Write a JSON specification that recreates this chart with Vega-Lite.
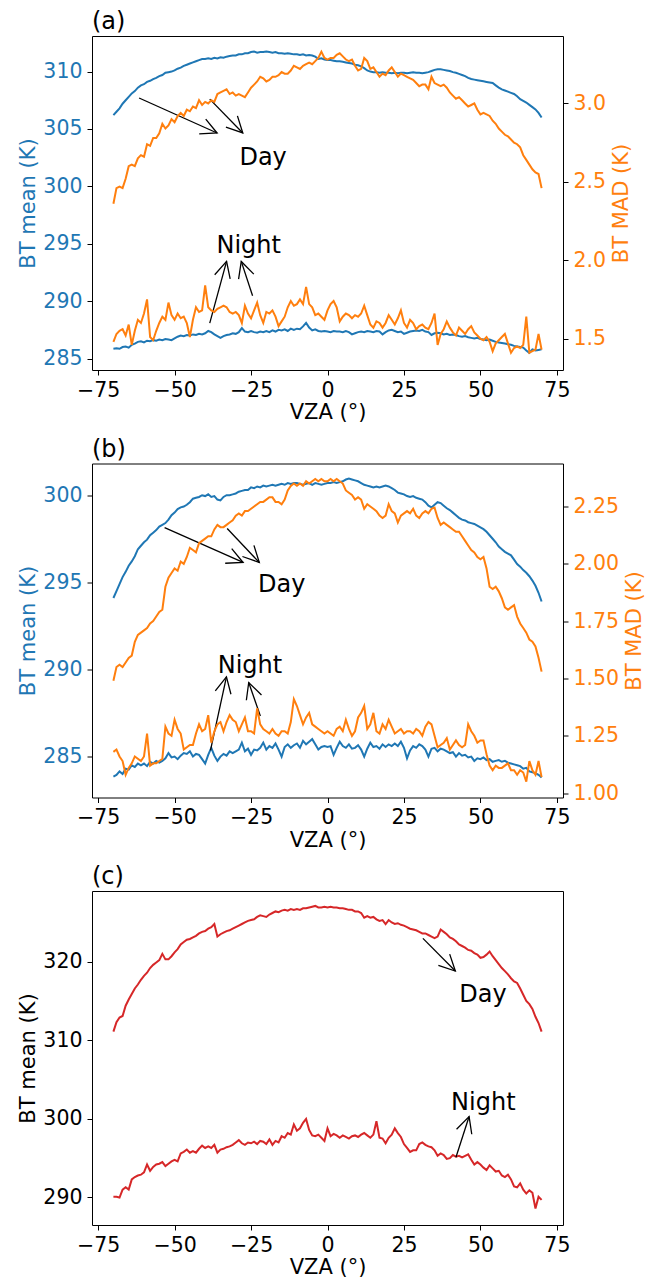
{
"$schema":"https://vega.github.io/schema/vega-lite/v6.json",
"padding":{"left":17,"top":9,"right":5,"bottom":2},
"background":"white",
"datasets":{
"a":[
{"x":-70,"dm":306.2,"nm":285.85,"ds":2.36,"ns":1.48},{"x":-69,"dm":306.5,"nm":285.9,"ds":2.46,"ns":1.53},{"x":-68,"dm":306.8,"nm":285.85,"ds":2.47,"ns":1.55},{"x":-67,"dm":307.2,"nm":286.0,"ds":2.46,"ns":1.56},{"x":-66,"dm":307.5,"nm":286.05,"ds":2.52,"ns":1.52},{"x":-65,"dm":307.8,"nm":285.95,"ds":2.60,"ns":1.59},{"x":-64,"dm":308.1,"nm":286.2,"ds":2.61,"ns":1.46},{"x":-63,"dm":308.3,"nm":286.3,"ds":2.60,"ns":1.55},{"x":-62,"dm":308.6,"nm":286.45,"ds":2.65,"ns":1.62},{"x":-61,"dm":308.8,"nm":286.5,"ds":2.67,"ns":1.60},
{"x":-60,"dm":308.9,"nm":286.4,"ds":2.66,"ns":1.66},{"x":-59,"dm":309.1,"nm":286.55,"ds":2.74,"ns":1.75},{"x":-58,"dm":309.2,"nm":286.5,"ds":2.73,"ns":1.51},{"x":-57,"dm":309.35,"nm":286.6,"ds":2.78,"ns":1.49},{"x":-56,"dm":309.45,"nm":286.55,"ds":2.78,"ns":1.55},{"x":-55,"dm":309.6,"nm":286.65,"ds":2.81,"ns":1.60},{"x":-54,"dm":309.7,"nm":286.6,"ds":2.87,"ns":1.64},{"x":-53,"dm":309.9,"nm":286.7,"ds":2.84,"ns":1.62},{"x":-52,"dm":309.95,"nm":286.65,"ds":2.86,"ns":1.73},{"x":-51,"dm":310.0,"nm":286.6,"ds":2.90,"ns":1.65},
{"x":-50,"dm":310.1,"nm":286.75,"ds":2.88,"ns":1.62},{"x":-49,"dm":310.25,"nm":286.9,"ds":2.92,"ns":1.66},{"x":-48,"dm":310.35,"nm":287.0,"ds":2.94,"ns":1.63},{"x":-47,"dm":310.5,"nm":286.95,"ds":2.92,"ns":1.64},{"x":-46,"dm":310.6,"nm":287.05,"ds":2.96,"ns":1.60},{"x":-45,"dm":310.7,"nm":287.0,"ds":2.95,"ns":1.51},{"x":-44,"dm":310.8,"nm":287.1,"ds":2.98,"ns":1.62},{"x":-43,"dm":310.9,"nm":287.05,"ds":2.97,"ns":1.70},{"x":-42,"dm":311.0,"nm":287.15,"ds":3.02,"ns":1.67},{"x":-41,"dm":311.1,"nm":287.1,"ds":2.99,"ns":1.68},
{"x":-40,"dm":311.1,"nm":287.2,"ds":3.01,"ns":1.84},{"x":-39,"dm":311.15,"nm":287.4,"ds":3.00,"ns":1.70},{"x":-38,"dm":311.1,"nm":287.3,"ds":3.02,"ns":1.68},{"x":-37,"dm":311.2,"nm":287.1,"ds":3.01,"ns":1.67},{"x":-36,"dm":311.15,"nm":286.95,"ds":3.06,"ns":1.69},{"x":-35,"dm":311.25,"nm":286.8,"ds":3.07,"ns":1.70},{"x":-34,"dm":311.2,"nm":286.95,"ds":3.08,"ns":1.71},{"x":-33,"dm":311.3,"nm":287.05,"ds":3.09,"ns":1.70},{"x":-32,"dm":311.35,"nm":287.1,"ds":3.06,"ns":1.67},{"x":-31,"dm":311.4,"nm":287.2,"ds":3.07,"ns":1.66},
{"x":-30,"dm":311.4,"nm":287.15,"ds":3.05,"ns":1.67},{"x":-29,"dm":311.5,"nm":287.3,"ds":3.06,"ns":1.65},{"x":-28,"dm":311.5,"nm":287.65,"ds":3.05,"ns":1.60},{"x":-27,"dm":311.6,"nm":287.35,"ds":3.04,"ns":1.71},{"x":-26,"dm":311.6,"nm":287.3,"ds":3.07,"ns":1.66},{"x":-25,"dm":311.7,"nm":287.4,"ds":3.10,"ns":1.63},{"x":-24,"dm":311.75,"nm":287.3,"ds":3.12,"ns":1.68},{"x":-23,"dm":311.65,"nm":287.25,"ds":3.14,"ns":1.73},{"x":-22,"dm":311.7,"nm":287.35,"ds":3.17,"ns":1.65},{"x":-21,"dm":311.7,"nm":287.3,"ds":3.16,"ns":1.60},
{"x":-20,"dm":311.75,"nm":287.4,"ds":3.14,"ns":1.67},{"x":-19,"dm":311.7,"nm":287.3,"ds":3.15,"ns":1.66},{"x":-18,"dm":311.65,"nm":287.45,"ds":3.17,"ns":1.68},{"x":-17,"dm":311.7,"nm":287.35,"ds":3.17,"ns":1.64},{"x":-16,"dm":311.6,"nm":287.5,"ds":3.18,"ns":1.58},{"x":-15,"dm":311.6,"nm":287.45,"ds":3.20,"ns":1.61},{"x":-14,"dm":311.55,"nm":287.55,"ds":3.19,"ns":1.64},{"x":-13,"dm":311.6,"nm":287.4,"ds":3.19,"ns":1.70},{"x":-12,"dm":311.55,"nm":287.6,"ds":3.21,"ns":1.74},{"x":-11,"dm":311.5,"nm":287.5,"ds":3.24,"ns":1.71},
{"x":-10,"dm":311.5,"nm":287.6,"ds":3.23,"ns":1.72},{"x":-9,"dm":311.45,"nm":287.55,"ds":3.22,"ns":1.75},{"x":-8,"dm":311.5,"nm":287.8,"ds":3.24,"ns":1.72},{"x":-7,"dm":311.4,"nm":288.1,"ds":3.25,"ns":1.83},{"x":-6,"dm":311.45,"nm":287.7,"ds":3.26,"ns":1.72},{"x":-5,"dm":311.4,"nm":287.45,"ds":3.25,"ns":1.70},{"x":-4,"dm":311.3,"nm":287.55,"ds":3.27,"ns":1.65},{"x":-3,"dm":311.1,"nm":287.4,"ds":3.29,"ns":1.66},{"x":-2,"dm":311.15,"nm":287.35,"ds":3.33,"ns":1.64},{"x":-1,"dm":311.05,"nm":287.4,"ds":3.29,"ns":1.62},
{"x":0,"dm":311.0,"nm":287.35,"ds":3.28,"ns":1.68},{"x":1,"dm":311.0,"nm":287.3,"ds":3.29,"ns":1.72},{"x":2,"dm":310.95,"nm":287.4,"ds":3.29,"ns":1.74},{"x":3,"dm":310.9,"nm":287.35,"ds":3.31,"ns":1.70},{"x":4,"dm":310.9,"nm":287.35,"ds":3.32,"ns":1.61},{"x":5,"dm":310.85,"nm":287.3,"ds":3.30,"ns":1.64},{"x":6,"dm":310.8,"nm":287.4,"ds":3.28,"ns":1.66},{"x":7,"dm":310.75,"nm":287.3,"ds":3.27,"ns":1.65},{"x":8,"dm":310.7,"nm":287.1,"ds":3.28,"ns":1.63},{"x":9,"dm":310.6,"nm":287.2,"ds":3.24,"ns":1.65},
{"x":10,"dm":310.55,"nm":287.3,"ds":3.21,"ns":1.64},{"x":11,"dm":310.45,"nm":287.35,"ds":3.22,"ns":1.66},{"x":12,"dm":310.3,"nm":287.3,"ds":3.29,"ns":1.71},{"x":13,"dm":310.1,"nm":287.4,"ds":3.27,"ns":1.65},{"x":14,"dm":310.0,"nm":287.35,"ds":3.22,"ns":1.59},{"x":15,"dm":309.95,"nm":287.3,"ds":3.23,"ns":1.57},{"x":16,"dm":309.95,"nm":287.4,"ds":3.20,"ns":1.61},{"x":17,"dm":309.9,"nm":287.35,"ds":3.17,"ns":1.60},{"x":18,"dm":309.95,"nm":287.1,"ds":3.19,"ns":1.57},{"x":19,"dm":309.9,"nm":287.3,"ds":3.18,"ns":1.60},
{"x":20,"dm":309.9,"nm":287.45,"ds":3.21,"ns":1.65},{"x":21,"dm":309.85,"nm":287.5,"ds":3.23,"ns":1.62},{"x":22,"dm":309.9,"nm":287.4,"ds":3.20,"ns":1.59},{"x":23,"dm":309.85,"nm":287.3,"ds":3.17,"ns":1.63},{"x":24,"dm":309.9,"nm":287.35,"ds":3.19,"ns":1.68},{"x":25,"dm":309.9,"nm":287.15,"ds":3.18,"ns":1.60},{"x":26,"dm":309.85,"nm":287.25,"ds":3.17,"ns":1.57},{"x":27,"dm":309.9,"nm":287.35,"ds":3.16,"ns":1.62},{"x":28,"dm":309.95,"nm":287.4,"ds":3.15,"ns":1.60},{"x":29,"dm":309.9,"nm":287.45,"ds":3.13,"ns":1.56},
{"x":30,"dm":309.9,"nm":287.4,"ds":3.11,"ns":1.58},{"x":31,"dm":309.85,"nm":287.5,"ds":3.12,"ns":1.59},{"x":32,"dm":309.9,"nm":287.35,"ds":3.12,"ns":1.57},{"x":33,"dm":309.95,"nm":287.3,"ds":3.09,"ns":1.56},{"x":34,"dm":310.05,"nm":287.05,"ds":3.17,"ns":1.60},{"x":35,"dm":310.15,"nm":287.2,"ds":3.13,"ns":1.66},{"x":36,"dm":310.2,"nm":287.25,"ds":3.12,"ns":1.46},{"x":37,"dm":310.2,"nm":287.2,"ds":3.11,"ns":1.53},{"x":38,"dm":310.15,"nm":287.1,"ds":3.12,"ns":1.56},{"x":39,"dm":310.1,"nm":287.15,"ds":3.10,"ns":1.61},
{"x":40,"dm":310.05,"nm":287.05,"ds":3.07,"ns":1.57},{"x":41,"dm":309.95,"nm":287.1,"ds":3.05,"ns":1.54},{"x":42,"dm":309.9,"nm":287.05,"ds":3.03,"ns":1.52},{"x":43,"dm":309.8,"nm":286.95,"ds":3.04,"ns":1.57},{"x":44,"dm":309.7,"nm":286.9,"ds":3.02,"ns":1.55},{"x":45,"dm":309.6,"nm":286.95,"ds":3.00,"ns":1.53},{"x":46,"dm":309.45,"nm":286.85,"ds":2.98,"ns":1.56},{"x":47,"dm":309.35,"nm":286.8,"ds":2.99,"ns":1.58},{"x":48,"dm":309.3,"nm":286.75,"ds":3.00,"ns":1.54},{"x":49,"dm":309.25,"nm":286.8,"ds":2.96,"ns":1.52},
{"x":50,"dm":309.2,"nm":286.7,"ds":2.93,"ns":1.50},{"x":51,"dm":309.15,"nm":286.65,"ds":2.94,"ns":1.49},{"x":52,"dm":309.1,"nm":286.6,"ds":2.93,"ns":1.51},{"x":53,"dm":309.05,"nm":286.65,"ds":2.92,"ns":1.48},{"x":54,"dm":309.0,"nm":286.55,"ds":2.89,"ns":1.42},{"x":55,"dm":308.8,"nm":286.45,"ds":2.87,"ns":1.47},{"x":56,"dm":308.6,"nm":286.4,"ds":2.84,"ns":1.49},{"x":57,"dm":308.45,"nm":286.35,"ds":2.82,"ns":1.51},{"x":58,"dm":308.35,"nm":286.3,"ds":2.80,"ns":1.53},{"x":59,"dm":308.25,"nm":286.25,"ds":2.79,"ns":1.47},
{"x":60,"dm":308.15,"nm":286.2,"ds":2.77,"ns":1.41},{"x":61,"dm":308.05,"nm":286.1,"ds":2.75,"ns":1.44},{"x":62,"dm":307.85,"nm":286.05,"ds":2.74,"ns":1.45},{"x":63,"dm":307.6,"nm":286.0,"ds":2.72,"ns":1.44},{"x":64,"dm":307.45,"nm":285.95,"ds":2.67,"ns":1.46},{"x":65,"dm":307.3,"nm":285.7,"ds":2.64,"ns":1.64},{"x":66,"dm":307.1,"nm":285.5,"ds":2.61,"ns":1.41},{"x":67,"dm":306.9,"nm":285.8,"ds":2.58,"ns":1.42},{"x":68,"dm":306.7,"nm":285.7,"ds":2.56,"ns":1.43},{"x":69,"dm":306.4,"nm":285.75,"ds":2.55,"ns":1.53},
{"x":70,"dm":306.0,"nm":285.8,"ds":2.46,"ns":1.43}
],
"b":[
{"x":-70,"dm":294.1,"nm":283.85,"ds":1.49,"ns":1.18},{"x":-69,"dm":294.5,"nm":283.95,"ds":1.55,"ns":1.19},{"x":-68,"dm":294.9,"nm":284.15,"ds":1.56,"ns":1.16},{"x":-67,"dm":295.3,"nm":284.0,"ds":1.55,"ns":1.14},{"x":-66,"dm":295.6,"nm":284.3,"ds":1.57,"ns":1.08},{"x":-65,"dm":295.95,"nm":284.25,"ds":1.59,"ns":1.11},{"x":-64,"dm":296.2,"nm":284.5,"ds":1.60,"ns":1.13},{"x":-63,"dm":296.5,"nm":284.4,"ds":1.66,"ns":1.16},{"x":-62,"dm":296.9,"nm":284.6,"ds":1.69,"ns":1.15},{"x":-61,"dm":297.1,"nm":284.5,"ds":1.70,"ns":1.14},
{"x":-60,"dm":297.3,"nm":284.6,"ds":1.71,"ns":1.16},{"x":-59,"dm":297.45,"nm":284.45,"ds":1.72,"ns":1.26},{"x":-58,"dm":297.7,"nm":284.7,"ds":1.74,"ns":1.12},{"x":-57,"dm":297.85,"nm":284.6,"ds":1.75,"ns":1.13},{"x":-56,"dm":298.0,"nm":284.75,"ds":1.77,"ns":1.13},{"x":-55,"dm":298.2,"nm":284.65,"ds":1.79,"ns":1.14},{"x":-54,"dm":298.3,"nm":284.75,"ds":1.80,"ns":1.15},{"x":-53,"dm":298.4,"nm":284.9,"ds":1.90,"ns":1.29},{"x":-52,"dm":298.6,"nm":285.2,"ds":1.94,"ns":1.26},{"x":-51,"dm":298.85,"nm":284.95,"ds":1.96,"ns":1.25},
{"x":-50,"dm":299.0,"nm":285.0,"ds":1.98,"ns":1.32},{"x":-49,"dm":299.2,"nm":284.85,"ds":1.97,"ns":1.28},{"x":-48,"dm":299.3,"nm":285.05,"ds":2.01,"ns":1.26},{"x":-47,"dm":299.35,"nm":285.2,"ds":2.00,"ns":1.19},{"x":-46,"dm":299.45,"nm":285.15,"ds":2.03,"ns":1.20},{"x":-45,"dm":299.6,"nm":285.3,"ds":2.07,"ns":1.21},{"x":-44,"dm":299.8,"nm":285.0,"ds":2.06,"ns":1.21},{"x":-43,"dm":299.85,"nm":285.15,"ds":2.05,"ns":1.26},{"x":-42,"dm":299.9,"nm":285.1,"ds":2.09,"ns":1.30},{"x":-41,"dm":300.0,"nm":284.85,"ds":2.10,"ns":1.27},
{"x":-40,"dm":299.95,"nm":284.6,"ds":2.11,"ns":1.28},{"x":-39,"dm":300.05,"nm":285.1,"ds":2.12,"ns":1.34},{"x":-38,"dm":299.9,"nm":285.5,"ds":2.12,"ns":1.22},{"x":-37,"dm":299.95,"nm":285.05,"ds":2.15,"ns":1.27},{"x":-36,"dm":299.75,"nm":284.75,"ds":2.17,"ns":1.30},{"x":-35,"dm":299.7,"nm":285.0,"ds":2.16,"ns":1.31},{"x":-34,"dm":299.9,"nm":285.15,"ds":2.16,"ns":1.27},{"x":-33,"dm":300.0,"nm":285.05,"ds":2.17,"ns":1.31},{"x":-32,"dm":300.0,"nm":285.3,"ds":2.18,"ns":1.34},{"x":-31,"dm":300.05,"nm":285.2,"ds":2.19,"ns":1.32},
{"x":-30,"dm":300.1,"nm":285.3,"ds":2.21,"ns":1.31},{"x":-29,"dm":300.2,"nm":285.4,"ds":2.22,"ns":1.27},{"x":-28,"dm":300.25,"nm":285.8,"ds":2.21,"ns":1.30},{"x":-27,"dm":300.3,"nm":285.3,"ds":2.23,"ns":1.33},{"x":-26,"dm":300.3,"nm":285.45,"ds":2.23,"ns":1.27},{"x":-25,"dm":300.45,"nm":285.1,"ds":2.24,"ns":1.27},{"x":-24,"dm":300.4,"nm":285.4,"ds":2.25,"ns":1.26},{"x":-23,"dm":300.5,"nm":285.35,"ds":2.26,"ns":1.37},{"x":-22,"dm":300.45,"nm":285.5,"ds":2.27,"ns":1.30},{"x":-21,"dm":300.55,"nm":285.8,"ds":2.27,"ns":1.28},
{"x":-20,"dm":300.5,"nm":285.4,"ds":2.28,"ns":1.27},{"x":-19,"dm":300.55,"nm":285.6,"ds":2.29,"ns":1.26},{"x":-18,"dm":300.6,"nm":285.5,"ds":2.29,"ns":1.28},{"x":-17,"dm":300.55,"nm":285.75,"ds":2.27,"ns":1.26},{"x":-16,"dm":300.6,"nm":285.4,"ds":2.27,"ns":1.25},{"x":-15,"dm":300.65,"nm":285.0,"ds":2.26,"ns":1.27},{"x":-14,"dm":300.6,"nm":285.55,"ds":2.28,"ns":1.27},{"x":-13,"dm":300.7,"nm":285.7,"ds":2.32,"ns":1.26},{"x":-12,"dm":300.65,"nm":285.5,"ds":2.34,"ns":1.31},{"x":-11,"dm":300.7,"nm":285.65,"ds":2.35,"ns":1.41},
{"x":-10,"dm":300.7,"nm":285.75,"ds":2.34,"ns":1.38},{"x":-9,"dm":300.65,"nm":285.5,"ds":2.35,"ns":1.34},{"x":-8,"dm":300.6,"nm":285.9,"ds":2.34,"ns":1.30},{"x":-7,"dm":300.65,"nm":285.7,"ds":2.36,"ns":1.33},{"x":-6,"dm":300.7,"nm":285.85,"ds":2.35,"ns":1.35},{"x":-5,"dm":300.6,"nm":286.0,"ds":2.36,"ns":1.30},{"x":-4,"dm":300.7,"nm":285.7,"ds":2.37,"ns":1.29},{"x":-3,"dm":300.65,"nm":285.4,"ds":2.36,"ns":1.28},{"x":-2,"dm":300.6,"nm":285.55,"ds":2.37,"ns":1.27},{"x":-1,"dm":300.65,"nm":285.6,"ds":2.36,"ns":1.26},
{"x":0,"dm":300.7,"nm":285.55,"ds":2.36,"ns":1.27},{"x":1,"dm":300.7,"nm":285.6,"ds":2.37,"ns":1.26},{"x":2,"dm":300.75,"nm":285.1,"ds":2.36,"ns":1.25},{"x":3,"dm":300.7,"nm":285.5,"ds":2.37,"ns":1.28},{"x":4,"dm":300.75,"nm":285.85,"ds":2.36,"ns":1.29},{"x":5,"dm":300.8,"nm":285.6,"ds":2.35,"ns":1.27},{"x":6,"dm":300.9,"nm":285.5,"ds":2.32,"ns":1.32},{"x":7,"dm":300.95,"nm":285.7,"ds":2.31,"ns":1.28},{"x":8,"dm":300.9,"nm":285.45,"ds":2.30,"ns":1.25},{"x":9,"dm":300.85,"nm":285.5,"ds":2.28,"ns":1.27},
{"x":10,"dm":300.8,"nm":285.65,"ds":2.29,"ns":1.33},{"x":11,"dm":300.7,"nm":285.4,"ds":2.28,"ns":1.35},{"x":12,"dm":300.6,"nm":285.0,"ds":2.24,"ns":1.38},{"x":13,"dm":300.55,"nm":285.45,"ds":2.26,"ns":1.28},{"x":14,"dm":300.5,"nm":285.8,"ds":2.25,"ns":1.30},{"x":15,"dm":300.45,"nm":285.55,"ds":2.24,"ns":1.35},{"x":16,"dm":300.5,"nm":285.6,"ds":2.23,"ns":1.27},{"x":17,"dm":300.45,"nm":285.45,"ds":2.21,"ns":1.26},{"x":18,"dm":300.5,"nm":285.7,"ds":2.20,"ns":1.30},{"x":19,"dm":300.55,"nm":285.55,"ds":2.21,"ns":1.28},
{"x":20,"dm":300.5,"nm":285.7,"ds":2.26,"ns":1.32},{"x":21,"dm":300.4,"nm":285.6,"ds":2.23,"ns":1.29},{"x":22,"dm":300.3,"nm":285.75,"ds":2.22,"ns":1.26},{"x":23,"dm":300.15,"nm":285.6,"ds":2.18,"ns":1.27},{"x":24,"dm":300.1,"nm":285.85,"ds":2.21,"ns":1.28},{"x":25,"dm":300.05,"nm":285.5,"ds":2.22,"ns":1.26},{"x":26,"dm":299.95,"nm":284.9,"ds":2.23,"ns":1.27},{"x":27,"dm":299.9,"nm":285.35,"ds":2.22,"ns":1.27},{"x":28,"dm":299.95,"nm":285.6,"ds":2.24,"ns":1.26},{"x":29,"dm":299.85,"nm":285.5,"ds":2.21,"ns":1.28},
{"x":30,"dm":299.8,"nm":285.7,"ds":2.20,"ns":1.27},{"x":31,"dm":299.75,"nm":285.6,"ds":2.22,"ns":1.25},{"x":32,"dm":299.6,"nm":285.4,"ds":2.23,"ns":1.29},{"x":33,"dm":299.4,"nm":285.0,"ds":2.22,"ns":1.31},{"x":34,"dm":299.3,"nm":285.45,"ds":2.24,"ns":1.30},{"x":35,"dm":299.45,"nm":285.5,"ds":2.245,"ns":1.25},{"x":36,"dm":299.6,"nm":285.3,"ds":2.20,"ns":1.20},{"x":37,"dm":299.55,"nm":285.45,"ds":2.17,"ns":1.21},{"x":38,"dm":299.4,"nm":285.4,"ds":2.18,"ns":1.22},{"x":39,"dm":299.25,"nm":285.3,"ds":2.17,"ns":1.24},
{"x":40,"dm":299.15,"nm":285.2,"ds":2.16,"ns":1.19},{"x":41,"dm":299.0,"nm":285.25,"ds":2.15,"ns":1.21},{"x":42,"dm":298.85,"nm":285.0,"ds":2.14,"ns":1.23},{"x":43,"dm":298.7,"nm":285.2,"ds":2.14,"ns":1.21},{"x":44,"dm":298.6,"nm":285.05,"ds":2.12,"ns":1.20},{"x":45,"dm":298.55,"nm":285.1,"ds":2.10,"ns":1.21},{"x":46,"dm":298.45,"nm":284.95,"ds":2.08,"ns":1.30},{"x":47,"dm":298.4,"nm":285.0,"ds":2.06,"ns":1.27},{"x":48,"dm":298.35,"nm":284.75,"ds":2.05,"ns":1.25},{"x":49,"dm":298.25,"nm":284.9,"ds":2.03,"ns":1.22},
{"x":50,"dm":298.15,"nm":284.85,"ds":2.02,"ns":1.23},{"x":51,"dm":298.05,"nm":284.95,"ds":2.03,"ns":1.23},{"x":52,"dm":297.9,"nm":284.8,"ds":1.98,"ns":1.17},{"x":53,"dm":297.7,"nm":284.85,"ds":1.90,"ns":1.12},{"x":54,"dm":297.5,"nm":284.7,"ds":1.89,"ns":1.10},{"x":55,"dm":297.3,"nm":284.75,"ds":1.90,"ns":1.12},{"x":56,"dm":297.05,"nm":284.8,"ds":1.88,"ns":1.11},{"x":57,"dm":296.9,"nm":284.7,"ds":1.85,"ns":1.11},{"x":58,"dm":296.75,"nm":284.75,"ds":1.81,"ns":1.12},{"x":59,"dm":296.65,"nm":284.65,"ds":1.80,"ns":1.13},
{"x":60,"dm":296.55,"nm":284.6,"ds":1.81,"ns":1.10},{"x":61,"dm":296.3,"nm":284.55,"ds":1.82,"ns":1.10},{"x":62,"dm":296.05,"nm":284.5,"ds":1.77,"ns":1.08},{"x":63,"dm":295.9,"nm":284.45,"ds":1.74,"ns":1.10},{"x":64,"dm":295.7,"nm":284.3,"ds":1.72,"ns":1.09},{"x":65,"dm":295.55,"nm":284.35,"ds":1.70,"ns":1.05},{"x":66,"dm":295.35,"nm":284.15,"ds":1.67,"ns":1.14},{"x":67,"dm":295.1,"nm":284.1,"ds":1.66,"ns":1.10},{"x":68,"dm":294.8,"nm":284.05,"ds":1.64,"ns":1.08},{"x":69,"dm":294.4,"nm":283.95,"ds":1.59,"ns":1.14},
{"x":70,"dm":293.9,"nm":283.8,"ds":1.53,"ns":1.07}
],
"c":[
{"x":-70,"d":311.1,"n":290.1},{"x":-69,"d":312.3,"n":290.1},{"x":-68,"d":312.9,"n":290.0},{"x":-67,"d":313.1,"n":291.0},{"x":-66,"d":314.4,"n":291.3},{"x":-65,"d":315.2,"n":291.0},{"x":-64,"d":315.9,"n":292.3},{"x":-63,"d":316.6,"n":292.6},{"x":-62,"d":317.1,"n":292.8},{"x":-61,"d":317.7,"n":292.9},
{"x":-60,"d":318.2,"n":293.2},{"x":-59,"d":318.6,"n":294.2},{"x":-58,"d":319.2,"n":293.4},{"x":-57,"d":319.6,"n":293.9},{"x":-56,"d":319.9,"n":294.2},{"x":-55,"d":320.2,"n":294.3},{"x":-54,"d":321.0,"n":294.5},{"x":-53,"d":320.3,"n":294.0},{"x":-52,"d":320.3,"n":294.3},{"x":-51,"d":320.7,"n":294.6},
{"x":-50,"d":321.2,"n":294.8},{"x":-49,"d":321.6,"n":294.6},{"x":-48,"d":322.2,"n":295.6},{"x":-47,"d":322.5,"n":295.8},{"x":-46,"d":322.8,"n":296.1},{"x":-45,"d":322.9,"n":295.7},{"x":-44,"d":323.1,"n":295.9},{"x":-43,"d":323.3,"n":295.7},{"x":-42,"d":323.6,"n":296.2},{"x":-41,"d":323.8,"n":296.6},
{"x":-40,"d":323.9,"n":296.3},{"x":-39,"d":324.2,"n":296.5},{"x":-38,"d":324.4,"n":296.3},{"x":-37,"d":324.8,"n":296.7},{"x":-36,"d":323.2,"n":295.7},{"x":-35,"d":323.5,"n":296.1},{"x":-34,"d":323.7,"n":296.2},{"x":-33,"d":323.9,"n":296.4},{"x":-32,"d":324.0,"n":296.5},{"x":-31,"d":324.2,"n":296.7},
{"x":-30,"d":324.4,"n":297.0},{"x":-29,"d":324.6,"n":297.3},{"x":-28,"d":324.8,"n":296.9},{"x":-27,"d":325.0,"n":296.7},{"x":-26,"d":325.2,"n":297.0},{"x":-25,"d":325.3,"n":296.9},{"x":-24,"d":325.4,"n":297.1},{"x":-23,"d":325.7,"n":296.8},{"x":-22,"d":325.9,"n":297.2},{"x":-21,"d":325.8,"n":297.1},
{"x":-20,"d":325.7,"n":296.8},{"x":-19,"d":326.0,"n":297.4},{"x":-18,"d":326.2,"n":296.7},{"x":-17,"d":326.4,"n":297.2},{"x":-16,"d":326.3,"n":297.0},{"x":-15,"d":326.5,"n":297.8},{"x":-14,"d":326.6,"n":297.6},{"x":-13,"d":326.5,"n":298.2},{"x":-12,"d":326.7,"n":298.0},{"x":-11,"d":326.6,"n":299.3},
{"x":-10,"d":326.7,"n":298.5},{"x":-9,"d":326.6,"n":298.8},{"x":-8,"d":326.8,"n":299.5},{"x":-7,"d":326.8,"n":300.0},{"x":-6,"d":326.9,"n":298.6},{"x":-5,"d":327.0,"n":297.9},{"x":-4,"d":327.1,"n":297.8},{"x":-3,"d":326.9,"n":298.0},{"x":-2,"d":326.9,"n":297.6},{"x":-1,"d":327.0,"n":297.2},
{"x":0,"d":326.9,"n":298.8},{"x":1,"d":327.0,"n":297.8},{"x":2,"d":326.9,"n":298.1},{"x":3,"d":326.9,"n":297.9},{"x":4,"d":326.8,"n":297.6},{"x":5,"d":326.8,"n":297.9},{"x":6,"d":326.7,"n":297.7},{"x":7,"d":326.6,"n":297.5},{"x":8,"d":326.6,"n":297.8},{"x":9,"d":326.4,"n":297.9},
{"x":10,"d":326.4,"n":297.7},{"x":11,"d":326.2,"n":298.0},{"x":12,"d":325.6,"n":298.2},{"x":13,"d":325.8,"n":297.9},{"x":14,"d":325.6,"n":297.6},{"x":15,"d":325.7,"n":298.0},{"x":16,"d":325.4,"n":299.7},{"x":17,"d":325.2,"n":297.6},{"x":18,"d":325.3,"n":297.5},{"x":19,"d":324.8,"n":296.9},
{"x":20,"d":325.3,"n":297.6},{"x":21,"d":325.0,"n":298.0},{"x":22,"d":324.8,"n":298.8},{"x":23,"d":324.9,"n":298.2},{"x":24,"d":324.7,"n":297.7},{"x":25,"d":324.6,"n":296.8},{"x":26,"d":324.4,"n":296.3},{"x":27,"d":324.2,"n":295.8},{"x":28,"d":324.1,"n":296.0},{"x":29,"d":324.0,"n":296.0},
{"x":30,"d":323.8,"n":296.8},{"x":31,"d":323.6,"n":297.0},{"x":32,"d":323.6,"n":296.7},{"x":33,"d":323.4,"n":296.5},{"x":34,"d":323.2,"n":296.4},{"x":35,"d":323.0,"n":296.0},{"x":36,"d":323.2,"n":295.3},{"x":37,"d":324.1,"n":295.6},{"x":38,"d":323.8,"n":295.4},{"x":39,"d":323.5,"n":294.9},
{"x":40,"d":323.1,"n":295.0},{"x":41,"d":322.9,"n":295.4},{"x":42,"d":322.6,"n":295.2},{"x":43,"d":322.2,"n":295.3},{"x":44,"d":322.0,"n":295.1},{"x":45,"d":321.8,"n":295.3},{"x":46,"d":321.5,"n":295.5},{"x":47,"d":321.4,"n":294.8},{"x":48,"d":321.1,"n":294.2},{"x":49,"d":320.9,"n":294.5},
{"x":50,"d":320.5,"n":294.2},{"x":51,"d":320.6,"n":293.8},{"x":52,"d":320.9,"n":293.5},{"x":53,"d":321.3,"n":294.1},{"x":54,"d":320.7,"n":293.7},{"x":55,"d":320.2,"n":293.3},{"x":56,"d":319.7,"n":293.4},{"x":57,"d":319.2,"n":292.8},{"x":58,"d":318.8,"n":292.6},{"x":59,"d":318.4,"n":292.9},
{"x":60,"d":317.9,"n":292.3},{"x":61,"d":317.5,"n":291.4},{"x":62,"d":317.3,"n":291.3},{"x":63,"d":316.6,"n":291.8},{"x":64,"d":315.8,"n":291.0},{"x":65,"d":315.0,"n":290.5},{"x":66,"d":314.6,"n":290.9},{"x":67,"d":314.0,"n":290.6},{"x":68,"d":313.0,"n":288.6},{"x":69,"d":312.2,"n":290.1},
{"x":70,"d":311.1,"n":289.7}
],
"arrA":[{"k":"d1","x":-61.6,"y":307.7,"x2":-36.1,"y2":304.65},{"k":"d2","x":-38.5,"y":307.6,"x2":-27.7,"y2":304.65},{"k":"n1","x":-38.5,"y":288.08,"x2":-33.0,"y2":293.46},{"k":"n2","x":-24.5,"y":290.47,"x2":-28.2,"y2":293.46}],
"txtA":[{"t":"Day","x":-28.8,"y":301.83},{"t":"Night","x":-36.3,"y":294.19}],
"arrB":[{"k":"d1","x":-53.26,"y":298.14,"x2":-27.6,"y2":296.14},{"k":"d2","x":-32.8,"y":298.09,"x2":-22.3,"y2":296.14},{"k":"n1","x":-38.26,"y":285.36,"x2":-33.04,"y2":289.57},{"k":"n2","x":-21.96,"y":287.33,"x2":-25.76,"y2":289.25}],
"txtB":[{"t":"Day","x":-22.7,"y":294.45},{"t":"Night","x":-35.9,"y":289.78}],
"arrC":[{"k":"d1","x":31.2,"y":322.97,"x2":41.8,"y2":318.81},{"k":"n1","x":42.0,"y":295.13,"x2":46.3,"y2":300.3}],
"txtC":[{"t":"Day","x":43.1,"y":314.9},{"t":"Night","x":40.4,"y":301.14}]
},
"vconcat":[
{
"width":471,"height":334,
"title":{"text":"(a)"},
"data":{"name":"a"},
"layer":[
{"layer":[
{"mark":{"type":"line","color":"#1f77b4","strokeWidth":2},"encoding":{"x":{"field":"x","type":"quantitative","scale":{"domain":[-77,77],"nice":false,"zero":false},"axis":{"title":"VZA (°)","values":[-75,-50,-25,0,25,50,75],"format":"d"}},"y":{"field":"dm","type":"quantitative","scale":{"domain":[284.0,313.1],"nice":false,"zero":false},"axis":{"title":"BT mean (K)","titleColor":"#1f77b4","labelColor":"#1f77b4","values":[285,290,295,300,305,310],"format":"d"}}}},
{"mark":{"type":"line","color":"#1f77b4","strokeWidth":2},"encoding":{"x":{"field":"x","type":"quantitative","scale":{"domain":[-77,77],"nice":false,"zero":false},"axis":{"title":"VZA (°)","values":[-75,-50,-25,0,25,50,75],"format":"d"}},"y":{"field":"nm","type":"quantitative","scale":{"domain":[284.0,313.1],"nice":false,"zero":false},"axis":{"title":"BT mean (K)","titleColor":"#1f77b4","labelColor":"#1f77b4","values":[285,290,295,300,305,310],"format":"d"}}}},
{"data":{"name":"arrA"},"mark":{"type":"rule","color":"black","strokeWidth":1.3},"encoding":{"x":{"field":"x","type":"quantitative","scale":{"domain":[-77,77],"nice":false,"zero":false},"axis":{"title":"VZA (°)","values":[-75,-50,-25,0,25,50,75],"format":"d"}},"y":{"field":"y","type":"quantitative","scale":{"domain":[284.0,313.1],"nice":false,"zero":false},"axis":{"title":"BT mean (K)","titleColor":"#1f77b4","labelColor":"#1f77b4","values":[285,290,295,300,305,310],"format":"d"}},"x2":{"field":"x2"},"y2":{"field":"y2"}}},
{"data":{"name":"arrA"},"transform":[{"filter":"datum.k==='d1'"}],"mark":{"type":"point","shape":"M-1,-0.5L0,0L-1,0.5","size":1024,"angle":24,"filled":false,"color":"black","strokeWidth":1.3,"opacity":1},"encoding":{"x":{"field":"x2","type":"quantitative"},"y":{"field":"y2","type":"quantitative"}}},
{"data":{"name":"arrA"},"transform":[{"filter":"datum.k==='d2'"}],"mark":{"type":"point","shape":"M-1,-0.5L0,0L-1,0.5","size":1024,"angle":46,"filled":false,"color":"black","strokeWidth":1.3,"opacity":1},"encoding":{"x":{"field":"x2","type":"quantitative"},"y":{"field":"y2","type":"quantitative"}}},
{"data":{"name":"arrA"},"transform":[{"filter":"datum.k==='n1'"}],"mark":{"type":"point","shape":"M-1,-0.5L0,0L-1,0.5","size":1024,"angle":-75,"filled":false,"color":"black","strokeWidth":1.3,"opacity":1},"encoding":{"x":{"field":"x2","type":"quantitative"},"y":{"field":"y2","type":"quantitative"}}},
{"data":{"name":"arrA"},"transform":[{"filter":"datum.k==='n2'"}],"mark":{"type":"point","shape":"M-1,-0.5L0,0L-1,0.5","size":1024,"angle":-108,"filled":false,"color":"black","strokeWidth":1.3,"opacity":1},"encoding":{"x":{"field":"x2","type":"quantitative"},"y":{"field":"y2","type":"quantitative"}}},
{"data":{"name":"txtA"},"mark":{"type":"text","align":"left","baseline":"alphabetic","fontSize":24,"font":"DejaVu Sans","color":"black"},"encoding":{"x":{"field":"x","type":"quantitative"},"y":{"field":"y","type":"quantitative"},"text":{"field":"t","type":"nominal"}}}
]},
{"layer":[
{"mark":{"type":"line","color":"#ff7f0e","strokeWidth":2},"encoding":{"x":{"field":"x","type":"quantitative","scale":{"domain":[-77,77],"nice":false,"zero":false},"axis":{"title":"VZA (°)","values":[-75,-50,-25,0,25,50,75],"format":"d"}},"y":{"field":"ds","type":"quantitative","scale":{"domain":[1.30,3.43],"nice":false,"zero":false},"axis":{"orient":"right","title":"BT MAD (K)","titleColor":"#ff7f0e","labelColor":"#ff7f0e","values":[1.5,2.0,2.5,3.0],"format":".1f","titleAngle":270,"titleBaseline":"top"}}}},
{"mark":{"type":"line","color":"#ff7f0e","strokeWidth":2},"encoding":{"x":{"field":"x","type":"quantitative","scale":{"domain":[-77,77],"nice":false,"zero":false},"axis":{"title":"VZA (°)","values":[-75,-50,-25,0,25,50,75],"format":"d"}},"y":{"field":"ns","type":"quantitative","scale":{"domain":[1.30,3.43],"nice":false,"zero":false},"axis":{"orient":"right","title":"BT MAD (K)","titleColor":"#ff7f0e","labelColor":"#ff7f0e","values":[1.5,2.0,2.5,3.0],"format":".1f","titleAngle":270,"titleBaseline":"top"}}}}
]}
],
"resolve":{"scale":{"y":"independent"}}
},
{
"width":471,"height":334,
"title":{"text":"(b)"},
"data":{"name":"b"},
"layer":[
{"layer":[
{"mark":{"type":"line","color":"#1f77b4","strokeWidth":2},"encoding":{"x":{"field":"x","type":"quantitative","scale":{"domain":[-77,77],"nice":false,"zero":false},"axis":{"title":"VZA (°)","values":[-75,-50,-25,0,25,50,75],"format":"d"}},"y":{"field":"dm","type":"quantitative","scale":{"domain":[282.65,301.82],"nice":false,"zero":false},"axis":{"title":"BT mean (K)","titleColor":"#1f77b4","labelColor":"#1f77b4","values":[285,290,295,300],"format":"d"}}}},
{"mark":{"type":"line","color":"#1f77b4","strokeWidth":2},"encoding":{"x":{"field":"x","type":"quantitative","scale":{"domain":[-77,77],"nice":false,"zero":false},"axis":{"title":"VZA (°)","values":[-75,-50,-25,0,25,50,75],"format":"d"}},"y":{"field":"nm","type":"quantitative","scale":{"domain":[282.65,301.82],"nice":false,"zero":false},"axis":{"title":"BT mean (K)","titleColor":"#1f77b4","labelColor":"#1f77b4","values":[285,290,295,300],"format":"d"}}}},
{"data":{"name":"arrB"},"mark":{"type":"rule","color":"black","strokeWidth":1.3},"encoding":{"x":{"field":"x","type":"quantitative","scale":{"domain":[-77,77],"nice":false,"zero":false},"axis":{"title":"VZA (°)","values":[-75,-50,-25,0,25,50,75],"format":"d"}},"y":{"field":"y","type":"quantitative","scale":{"domain":[282.65,301.82],"nice":false,"zero":false},"axis":{"title":"BT mean (K)","titleColor":"#1f77b4","labelColor":"#1f77b4","values":[285,290,295,300],"format":"d"}},"x2":{"field":"x2"},"y2":{"field":"y2"}}},
{"data":{"name":"arrB"},"transform":[{"filter":"datum.k==='d1'"}],"mark":{"type":"point","shape":"M-1,-0.5L0,0L-1,0.5","size":1024,"angle":24,"filled":false,"color":"black","strokeWidth":1.3,"opacity":1},"encoding":{"x":{"field":"x2","type":"quantitative"},"y":{"field":"y2","type":"quantitative"}}},
{"data":{"name":"arrB"},"transform":[{"filter":"datum.k==='d2'"}],"mark":{"type":"point","shape":"M-1,-0.5L0,0L-1,0.5","size":1024,"angle":46,"filled":false,"color":"black","strokeWidth":1.3,"opacity":1},"encoding":{"x":{"field":"x2","type":"quantitative"},"y":{"field":"y2","type":"quantitative"}}},
{"data":{"name":"arrB"},"transform":[{"filter":"datum.k==='n1'"}],"mark":{"type":"point","shape":"M-1,-0.5L0,0L-1,0.5","size":1024,"angle":-78,"filled":false,"color":"black","strokeWidth":1.3,"opacity":1},"encoding":{"x":{"field":"x2","type":"quantitative"},"y":{"field":"y2","type":"quantitative"}}},
{"data":{"name":"arrB"},"transform":[{"filter":"datum.k==='n2'"}],"mark":{"type":"point","shape":"M-1,-0.5L0,0L-1,0.5","size":1024,"angle":-109,"filled":false,"color":"black","strokeWidth":1.3,"opacity":1},"encoding":{"x":{"field":"x2","type":"quantitative"},"y":{"field":"y2","type":"quantitative"}}},
{"data":{"name":"txtB"},"mark":{"type":"text","align":"left","baseline":"alphabetic","fontSize":24,"font":"DejaVu Sans","color":"black"},"encoding":{"x":{"field":"x","type":"quantitative"},"y":{"field":"y","type":"quantitative"},"text":{"field":"t","type":"nominal"}}}
]},
{"layer":[
{"mark":{"type":"line","color":"#ff7f0e","strokeWidth":2},"encoding":{"x":{"field":"x","type":"quantitative","scale":{"domain":[-77,77],"nice":false,"zero":false},"axis":{"title":"VZA (°)","values":[-75,-50,-25,0,25,50,75],"format":"d"}},"y":{"field":"ds","type":"quantitative","scale":{"domain":[0.981,2.4375],"nice":false,"zero":false},"axis":{"orient":"right","title":"BT MAD (K)","titleColor":"#ff7f0e","labelColor":"#ff7f0e","values":[1.0,1.25,1.5,1.75,2.0,2.25],"format":".2f","titleAngle":270,"titleBaseline":"top"}}}},
{"mark":{"type":"line","color":"#ff7f0e","strokeWidth":2},"encoding":{"x":{"field":"x","type":"quantitative","scale":{"domain":[-77,77],"nice":false,"zero":false},"axis":{"title":"VZA (°)","values":[-75,-50,-25,0,25,50,75],"format":"d"}},"y":{"field":"ns","type":"quantitative","scale":{"domain":[0.981,2.4375],"nice":false,"zero":false},"axis":{"orient":"right","title":"BT MAD (K)","titleColor":"#ff7f0e","labelColor":"#ff7f0e","values":[1.0,1.25,1.5,1.75,2.0,2.25],"format":".2f","titleAngle":270,"titleBaseline":"top"}}}}
]}
],
"resolve":{"scale":{"y":"independent"}}
},
{
"width":471,"height":334,
"title":{"text":"(c)"},
"data":{"name":"c"},
"layer":[
{"mark":{"type":"line","color":"#d62728","strokeWidth":2},"encoding":{"x":{"field":"x","type":"quantitative","scale":{"domain":[-77,77],"nice":false,"zero":false},"axis":{"title":"VZA (°)","values":[-75,-50,-25,0,25,50,75],"format":"d"}},"y":{"field":"d","type":"quantitative","scale":{"domain":[286.5,329.0],"nice":false,"zero":false},"axis":{"title":"BT mean (K)","values":[290,300,310,320],"format":"d"}}}},
{"mark":{"type":"line","color":"#d62728","strokeWidth":2},"encoding":{"x":{"field":"x","type":"quantitative","scale":{"domain":[-77,77],"nice":false,"zero":false},"axis":{"title":"VZA (°)","values":[-75,-50,-25,0,25,50,75],"format":"d"}},"y":{"field":"n","type":"quantitative","scale":{"domain":[286.5,329.0],"nice":false,"zero":false},"axis":{"title":"BT mean (K)","values":[290,300,310,320],"format":"d"}}}},
{"data":{"name":"arrC"},"mark":{"type":"rule","color":"black","strokeWidth":1.3},"encoding":{"x":{"field":"x","type":"quantitative","scale":{"domain":[-77,77],"nice":false,"zero":false},"axis":{"title":"VZA (°)","values":[-75,-50,-25,0,25,50,75],"format":"d"}},"y":{"field":"y","type":"quantitative","scale":{"domain":[286.5,329.0],"nice":false,"zero":false},"axis":{"title":"BT mean (K)","values":[290,300,310,320],"format":"d"}},"x2":{"field":"x2"},"y2":{"field":"y2"}}},
{"data":{"name":"arrC"},"transform":[{"filter":"datum.k==='d1'"}],"mark":{"type":"point","shape":"M-1,-0.5L0,0L-1,0.5","size":1024,"angle":45,"filled":false,"color":"black","strokeWidth":1.3,"opacity":1},"encoding":{"x":{"field":"x2","type":"quantitative"},"y":{"field":"y2","type":"quantitative"}}},
{"data":{"name":"arrC"},"transform":[{"filter":"datum.k==='n1'"}],"mark":{"type":"point","shape":"M-1,-0.5L0,0L-1,0.5","size":1024,"angle":-72,"filled":false,"color":"black","strokeWidth":1.3,"opacity":1},"encoding":{"x":{"field":"x2","type":"quantitative"},"y":{"field":"y2","type":"quantitative"}}},
{"data":{"name":"txtC"},"mark":{"type":"text","align":"left","baseline":"alphabetic","fontSize":24,"font":"DejaVu Sans","color":"black"},"encoding":{"x":{"field":"x","type":"quantitative"},"y":{"field":"y","type":"quantitative"},"text":{"field":"t","type":"nominal"}}}
]
}
],
"spacing":93.5,
"bounds":"flush",
"config":{
"view":{"stroke":"black","strokeWidth":1},
"font":"DejaVu Sans",
"axis":{"grid":false,"domain":false,"ticks":true,"tickColor":"black","tickSize":5,"tickWidth":1,"labelPadding":5,"labelFont":"DejaVu Sans","labelFontSize":20.5,"labelColor":"black","titleFont":"DejaVu Sans","titleFontSize":21,"titleFontWeight":"normal","titleColor":"black","labelFlush":false,"labelOverlap":false,"labelBound":false},
"axisX":{"titlePadding":1},
"axisLeft":{"titlePadding":4},
"axisRight":{"titlePadding":5},
"title":{"anchor":"start","frame":"group","fontSize":24,"font":"DejaVu Sans","fontWeight":"normal","offset":2,"color":"black"}
}
}
